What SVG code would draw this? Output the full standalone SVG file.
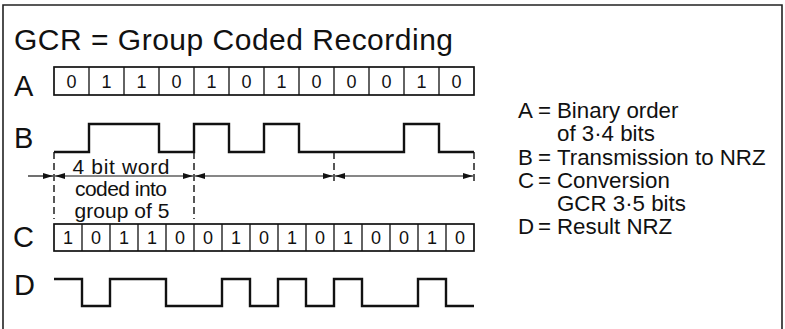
<svg xmlns="http://www.w3.org/2000/svg" width="785" height="329" viewBox="0 0 785 329">
<style>
text{font-family:"Liberation Sans",Arial,sans-serif;fill:#111}
.lbl{font-size:29px}
.dig{font-size:18px;text-anchor:middle}
.leg{font-size:22.3px}
.note{font-size:21px;text-anchor:middle}
.box{fill:#fff;stroke:#111;stroke-width:1.7}
.cell{stroke:#111;stroke-width:1.3}
.wave{fill:none;stroke:#111;stroke-width:2.4;stroke-linejoin:miter}
.dash{stroke:#111;stroke-width:1.4;stroke-dasharray:7 4}
.arr{stroke:#111;stroke-width:1.2}
</style>
<defs>
<marker id="ah" viewBox="0 0 10 6" refX="10" refY="3" markerWidth="10" markerHeight="6" markerUnits="userSpaceOnUse" orient="auto-start-reverse">
<path d="M0,0 L10,3 L0,6 Z" fill="#111"/>
</marker>
</defs>
<rect width="785" height="329" fill="#fff"/>
<path d="M3,335 V5 H782 V335" fill="none" stroke="#222" stroke-width="1.6"/>

<g id="title">
<text x="14" y="50" font-size="30" textLength="439" lengthAdjust="spacing">GCR = Group Coded Recording</text>
</g>

<g id="rowA">
<text class="lbl" x="14" y="96">A</text>
<rect class="box" x="54" y="67" width="420" height="28"/>
<path class="cell" d="M89,67V95M124,67V95M159,67V95M194,67V95M229,67V95M264,67V95M299,67V95M334,67V95M369,67V95M404,67V95M439,67V95"/>
<text class="dig" y="87.5"><tspan x="71.5">0</tspan><tspan x="106.5">1</tspan><tspan x="141.5">1</tspan><tspan x="176.5">0</tspan><tspan x="211.5">1</tspan><tspan x="246.5">0</tspan><tspan x="281.5">1</tspan><tspan x="316.5">0</tspan><tspan x="351.5">0</tspan><tspan x="386.5">0</tspan><tspan x="421.5">1</tspan><tspan x="456.5">0</tspan></text>
</g>

<g id="rowB">
<text class="lbl" x="14" y="148">B</text>
<path class="wave" d="M54,152H89V124H159V152H194V124H229V152H264V124H299V152H404V124H439V152H474"/>
<text class="note" x="121" y="174" textLength="97" lengthAdjust="spacing">4 bit word</text>
<text class="note" x="121" y="196" textLength="92" lengthAdjust="spacing">coded into</text>
<text class="note" x="122" y="218" textLength="95" lengthAdjust="spacing">group of 5</text>
</g>

<g id="rowC">
<text class="lbl" x="13" y="247">C</text>
<rect class="box" x="54" y="224" width="420" height="27"/>
<path class="cell" d="M82,224V251M110,224V251M138,224V251M166,224V251M194,224V251M222,224V251M250,224V251M278,224V251M306,224V251M334,224V251M362,224V251M390,224V251M418,224V251M446,224V251"/>
<text class="dig" y="244"><tspan x="68">1</tspan><tspan x="96">0</tspan><tspan x="124">1</tspan><tspan x="152">1</tspan><tspan x="180">0</tspan><tspan x="208">0</tspan><tspan x="236">1</tspan><tspan x="264">0</tspan><tspan x="292">1</tspan><tspan x="320">0</tspan><tspan x="348">1</tspan><tspan x="376">0</tspan><tspan x="404">0</tspan><tspan x="432">1</tspan><tspan x="460">0</tspan></text>
</g>

<g id="rowD">
<text class="lbl" x="14" y="295">D</text>
<path class="wave" d="M54,279H82V306H110V279H166V306H222V279H250V306H278V279H306V306H334V279H362V306H418V279H446V306H474"/>
</g>

<g id="connectors">
<path class="dash" d="M54,152V219M194,152V219M334,152V181M474,152V181"/>
<line class="arr" x1="28" y1="176" x2="53" y2="176" marker-end="url(#ah)"/>
<line class="arr" x1="55" y1="176" x2="193" y2="176" marker-start="url(#ah)" marker-end="url(#ah)"/>
<line class="arr" x1="195" y1="176" x2="333" y2="176" marker-start="url(#ah)" marker-end="url(#ah)"/>
<line class="arr" x1="335" y1="176" x2="473" y2="176" marker-start="url(#ah)" marker-end="url(#ah)"/>
</g>

<g id="legend">
<text class="leg" y="118"><tspan x="518">A</tspan><tspan x="538">=</tspan><tspan x="557">Binary order</tspan></text>
<text class="leg" x="557" y="141">of 3·4 bits</text>
<text class="leg" y="165"><tspan x="518">B</tspan><tspan x="538">=</tspan><tspan x="557">Transmission to NRZ</tspan></text>
<text class="leg" y="188"><tspan x="518">C</tspan><tspan x="538">=</tspan><tspan x="557">Conversion</tspan></text>
<text class="leg" x="557" y="211">GCR 3·5 bits</text>
<text class="leg" y="234"><tspan x="518">D</tspan><tspan x="538">=</tspan><tspan x="557">Result NRZ</tspan></text>
</g>
</svg>
